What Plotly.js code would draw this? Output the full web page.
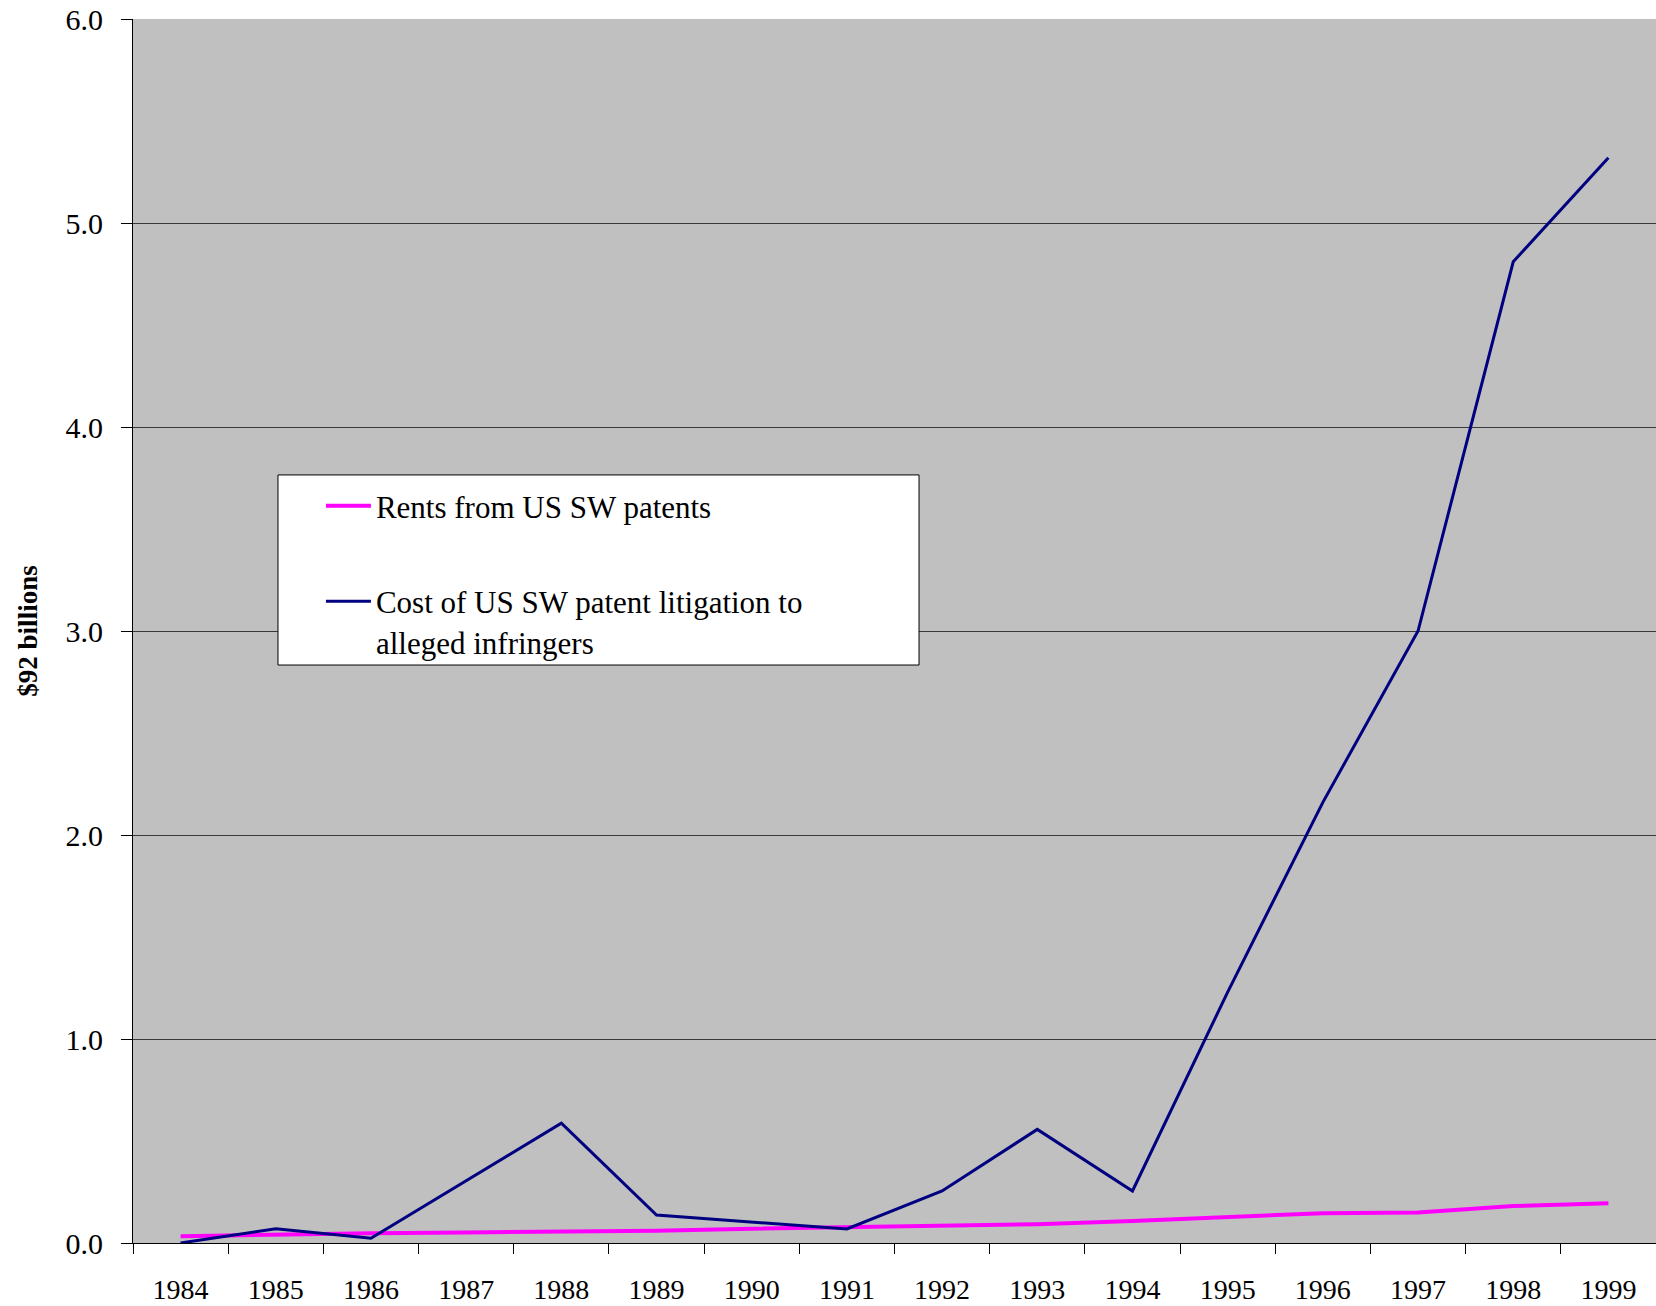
<!DOCTYPE html>
<html>
<head>
<meta charset="utf-8">
<script src="https://cdn.plot.ly/plotly-3.0.1.min.js"></script>
<style>
  html, body { margin: 0; padding: 0; background: #ffffff; }
  #chart { width: 1656px; height: 1306px; }
</style>
</head>
<body>
<div id="chart"></div>
<script>
// ---- data ----
const years = ['1984','1985','1986','1987','1988','1989','1990','1991','1992','1993','1994','1995','1996','1997','1998','1999'];
const rents = [0.033, 0.041, 0.048, 0.052, 0.055, 0.060, 0.070, 0.078, 0.085, 0.092, 0.108, 0.126, 0.146, 0.150, 0.181, 0.195];
const litigation = [0.0, 0.07, 0.023, 0.305, 0.587, 0.137, 0.103, 0.069, 0.255, 0.557, 0.255, 1.23, 2.16, 3.0, 4.81, 5.32];
const yTicks = [0, 1, 2, 3, 4, 5, 6];
const rentsName = 'Rents from US SW patents';
const litigationName = 'Cost of US SW patent litigation to<br>alleged infringers';
const yTitle = '$92 billions';

const serif = 'Liberation Serif, Times New Roman, serif';

const traces = [
  {
    x: years, y: rents, type: 'scatter', mode: 'lines', name: rentsName,
    legendgroup: 'a',
    line: { color: '#FF00FF', width: 4 }
  },
  {
    x: years, y: litigation, type: 'scatter', mode: 'lines', name: litigationName,
    legendgroup: 'b',
    line: { color: '#000080', width: 3 }
  }
];

const layout = {
  width: 1656,
  height: 1306,
  margin: { l: 133, r: 0, t: 19, b: 63, pad: 0 },
  paper_bgcolor: '#ffffff',
  plot_bgcolor: '#C0C0C0',
  font: { family: serif, color: '#000000' },
  showlegend: true,
  legend: {
    x: 0.1234, y: 0.624, xanchor: 'left', yanchor: 'top',
    bgcolor: 'rgba(0,0,0,0)', borderwidth: 0,
    font: { family: serif, size: 31, color: '#000000' },
    traceorder: 'grouped', tracegroupgap: 52,
    itemwidth: 45, valign: 'top'
  },
  shapes: [
    {
      type: 'rect', xref: 'paper', yref: 'paper',
      x0: 0.0952, x1: 0.5161, y0: 0.4722, y1: 0.6275,
      fillcolor: '#ffffff', line: { color: '#000000', width: 1 }, layer: 'above'
    }
  ],
  xaxis: {
    type: 'category',
    range: [-0.5, 15.5],
    showgrid: false,
    zeroline: false,
    showline: true, linecolor: '#000000', linewidth: 1,
    ticks: 'outside', tickson: 'boundaries', ticklen: 10, tickcolor: '#000000', tickwidth: 1,
    tickfont: { family: serif, size: 28, color: '#000000' },
    ticklabelstandoff: 21,
    fixedrange: true
  },
  yaxis: {
    range: [0, 6],
    tickvals: yTicks,
    tickformat: '.1f',
    showgrid: true, gridcolor: '#383838', gridwidth: 1,
    zeroline: false,
    showline: true, linecolor: '#000000', linewidth: 1,
    ticks: 'outside', ticklen: 11, tickcolor: '#000000', tickwidth: 1,
    tickfont: { family: serif, size: 30, color: '#000000' },
    ticklabelstandoff: 12,
    title: { text: '<b>' + yTitle + '</b>', font: { family: serif, size: 27, color: '#000000' }, standoff: 20 },
    fixedrange: true
  }
};

Plotly.newPlot('chart', traces, layout, { displayModeBar: false, staticPlot: true });
</script>
</body>
</html>
